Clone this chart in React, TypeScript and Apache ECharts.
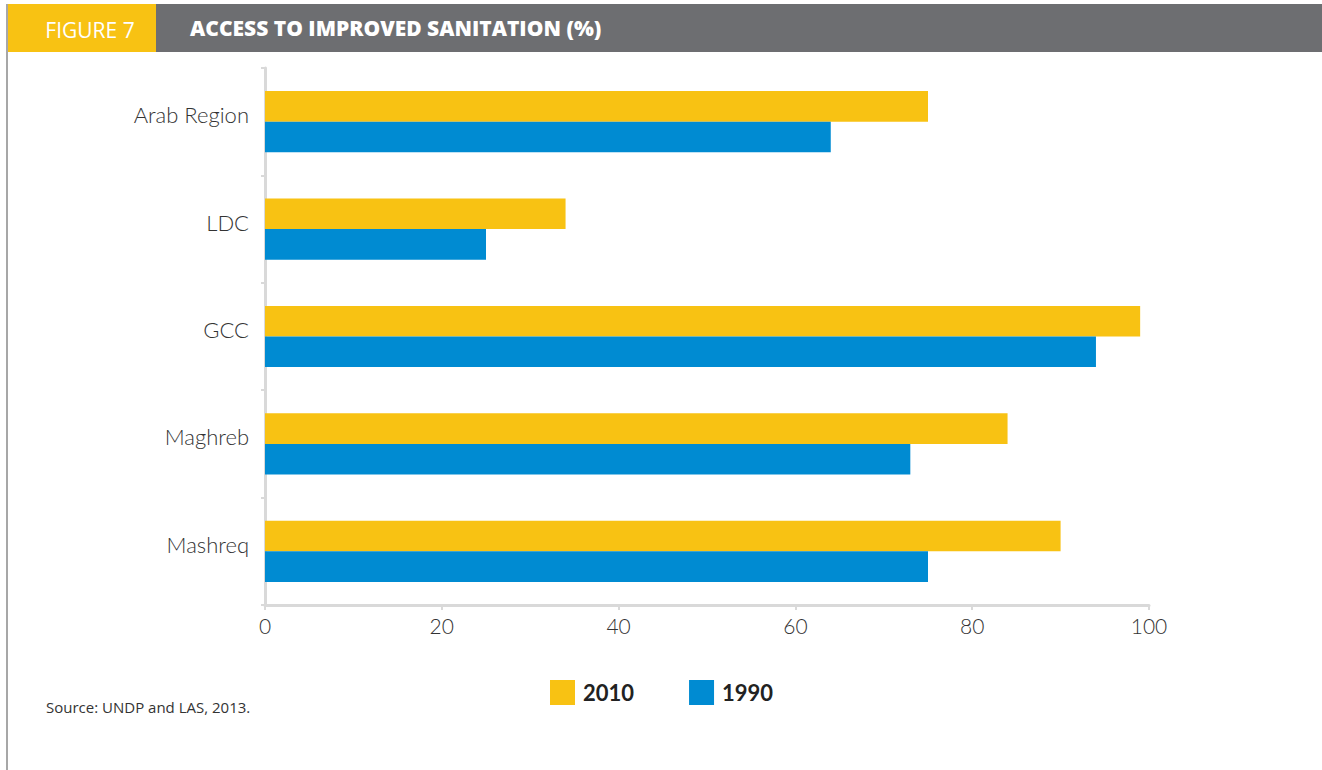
import React, { useEffect, useRef } from "react";
import * as echarts from "echarts";

// Access to improved sanitation (%), by region
const categories = ["Arab Region", "LDC", "GCC", "Maghreb", "Mashreq"];
const values2010 = [75, 34, 99, 84, 90];
const values1990 = [64, 25, 94, 73, 75];
const xTicks = { min: 0, max: 100, interval: 20 };

const YELLOW = "#F8C213";
const BLUE = "#008BD2";
const HEADER_GREY = "#6D6E71";
const AXIS_GREY = "#D9D9D9";
const FONT = "Lato, 'Open Sans', sans-serif";
const WIDE_FONT = "'Open Sans', Lato, sans-serif";

export default function App() {
  const ref = useRef<HTMLDivElement>(null);

  useEffect(() => {
    if (!ref.current) return;
    const chart = echarts.init(ref.current, null, { renderer: "svg" });
    chart.setOption({
      animation: false,
      backgroundColor: "#ffffff",
      textStyle: { fontFamily: FONT },
      graphic: [
        // frame line on the left
        {
          type: "line",
          shape: { x1: 7, y1: 4, x2: 7, y2: 770 },
          style: { stroke: "#8a8a8a", lineWidth: 1.5 },
        },
        // header band
        {
          type: "rect",
          shape: { x: 156, y: 4, width: 1166, height: 48 },
          style: { fill: HEADER_GREY },
        },
        {
          type: "rect",
          shape: { x: 8, y: 4, width: 148, height: 48 },
          style: { fill: YELLOW },
        },
        {
          type: "text",
          x: 90,
          y: 30,
          style: {
            text: "FIGURE 7",
            fill: "#ffffff",
            font: `400 21px ${WIDE_FONT}`,
            align: "center",
            verticalAlign: "middle",
          },
        },
        {
          type: "text",
          x: 190,
          y: 28,
          style: {
            text: "ACCESS TO IMPROVED SANITATION (%)",
            fill: "#ffffff",
            font: `800 21px ${WIDE_FONT}`,
            align: "left",
            verticalAlign: "middle",
          },
        },
        {
          type: "text",
          x: 46,
          y: 707,
          style: {
            text: "Source: UNDP and LAS, 2013.",
            fill: "#333333",
            font: `400 15px ${WIDE_FONT}`,
            align: "left",
            verticalAlign: "middle",
          },
        },
      ],
      legend: {
        left: 545,
        top: 675,
        itemWidth: 25,
        itemHeight: 25,
        itemGap: 55,
        icon: "rect",
        textStyle: {
          fontFamily: FONT,
          fontSize: 22,
          fontWeight: "bold",
          color: "#222222",
          padding: [0, 0, 0, 3],
        },
        data: ["2010", "1990"],
      },
      grid: { left: 265, right: 173, top: 68, bottom: 165 },
      xAxis: {
        type: "value",
        min: xTicks.min,
        max: xTicks.max,
        interval: xTicks.interval,
        axisLine: { show: true, lineStyle: { color: AXIS_GREY, width: 3 } },
        axisTick: { show: true, length: 5, lineStyle: { color: AXIS_GREY, width: 2 } },
        axisLabel: { color: "#333333", fontSize: 21, fontWeight: 300, margin: 10, fontFamily: FONT },
        splitLine: { show: false },
      },
      yAxis: {
        type: "category",
        inverse: true,
        data: categories,
        axisLine: { show: true, lineStyle: { color: AXIS_GREY, width: 3 } },
        axisTick: { show: true, length: 4, lineStyle: { color: AXIS_GREY, width: 2 } },
        axisLabel: {
          color: "#333333",
          fontSize: 22,
          fontWeight: 300,
          margin: 16,
          verticalAlign: "bottom",
          lineHeight: 14,
          fontFamily: FONT,
        },
      },
      series: [
        {
          name: "2010",
          type: "bar",
          data: values2010,
          itemStyle: { color: YELLOW },
          barGap: "0%",
          barCategoryGap: "43%",
        },
        {
          name: "1990",
          type: "bar",
          data: values1990,
          itemStyle: { color: BLUE },
          barGap: "0%",
          barCategoryGap: "43%",
        },
      ],
    });
    return () => chart.dispose();
  }, []);

  return (
    <div
      ref={ref}
      style={{ position: "fixed", left: 0, top: 0, width: 1322, height: 770 }}
    />
  );
}
